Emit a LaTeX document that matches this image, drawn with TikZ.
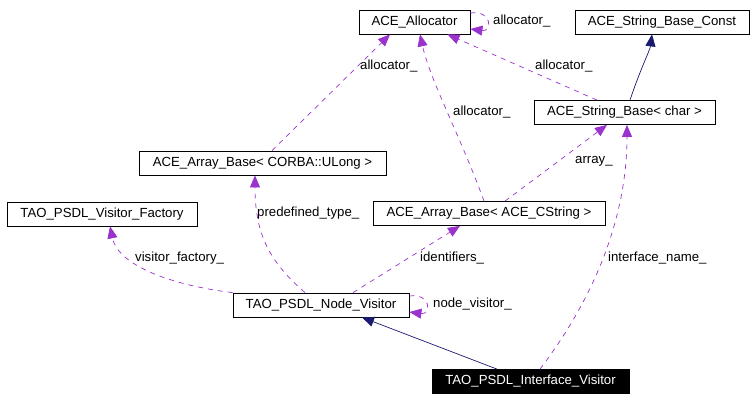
\documentclass[tikz,border=0pt]{standalone}
\usepackage{fontspec}
\setmainfont{Liberation Sans}
\usepackage{xcolor}
\usepackage{tikz}
\usetikzlibrary{arrows.meta}
\definecolor{assoccol}{HTML}{9A32CD}
\definecolor{inhercol}{HTML}{191970}
\tikzset{
	classbox/.style={draw, line width=0.8pt, minimum height=24pt, inner sep=0pt, font=\fontsize{13.2}{15}\selectfont},
	assoc/.style={assoccol, line width=0.7pt, dash pattern=on 5pt off 5pt, -{Triangle[length=12pt,width=10pt]}},
	inher/.style={inhercol, line width=0.7pt, -{Triangle[length=12pt,width=10pt]}},
	lbl/.style={anchor=west, inner sep=0pt, font=\fontsize{13.2}{15}\selectfont}
}
\begin{document}
\begin{tikzpicture}[x=1pt, y=-1pt]
	\useasboundingbox (0,0) rectangle (756,402);
	\node[classbox, minimum width=111pt] (alloc) at (414.5,22) {ACE\_Allocator};
	\node[classbox, minimum width=174pt] (sbconst) at (662,22) {ACE\_String\_Base\_Const};
	\node[classbox, minimum width=181pt] (sbchar) at (624.5,112.5) {ACE\_String\_Base< char >};
	\node[classbox, minimum width=247pt] (abulong) at (262.5,163) {ACE\_Array\_Base< CORBA::ULong >};
	\node[classbox, minimum width=190pt] (vfactory) at (102,214) {TAO\_PSDL\_Visitor\_Factory};
	\node[classbox, minimum width=232pt] (abcstr) at (489,213.5) {ACE\_Array\_Base< ACE\_CString >};
	\node[classbox, minimum width=176pt] (nodevis) at (321,305) {TAO\_PSDL\_Node\_Visitor};
	\node[classbox, minimum width=197pt, fill=black, text=white] (ifacevis) at (530.5,381.5) {TAO\_PSDL\_Interface\_Visitor};

	\draw[assoc] ([yshift=9pt]alloc.east) .. controls +(22,-3) and +(22,3) .. ([yshift=-7pt]alloc.east);
	\draw[assoc] ([xshift=9.5pt]abulong.north) -- ([xshift=-24.5pt]alloc.south);
	\draw[assoc] ([xshift=-27.5pt]sbchar.north) -- ([xshift=33pt]alloc.south);
	\draw[assoc] ([xshift=-5pt]abcstr.north) .. controls (462,140) and (430,80) .. ([xshift=5.5pt]alloc.south);
	\draw[inher] ([xshift=5.5pt]sbchar.north) .. controls (640,70) and (650,50) .. ([xshift=-10pt]sbconst.south);
	\draw[assoc] ([xshift=16pt]abcstr.north) -- ([xshift=-17.5pt]sbchar.south);
	\draw[assoc] ([xshift=9.5pt]ifacevis.north) .. controls (600,290) and (627,210) .. ([xshift=2.5pt]sbchar.south);
	\draw[assoc] ([xshift=-16pt]nodevis.north) .. controls (270,262) and (255,235) .. ([xshift=-7.5pt]abulong.south);
	\draw[assoc] (nodevis.north west) .. controls (170,285) and (118,265) .. ([xshift=8pt]vfactory.south);
	\draw[assoc] ([xshift=32pt]nodevis.north) -- ([xshift=-29pt]abcstr.south);
	\draw[assoc] ([yshift=9pt]nodevis.east) .. controls +(22,-3) and +(22,3) .. ([yshift=-7pt]nodevis.east);
	\draw[inher] ([xshift=-33.5pt]ifacevis.north) -- ([xshift=41pt]nodevis.south);

	\node[lbl] (lallocself) at (493,21) {allocator\_};
	\node[lbl] (lallocul) at (360,66) {allocator\_};
	\node[lbl] (lallocsb) at (535,66) {allocator\_};
	\node[lbl] (lalloccs) at (453,112) {allocator\_};
	\node[lbl] (larray) at (575,161) {array\_};
	\node[lbl] (lpredef) at (257,213) {predefined\_type\_};
	\node[lbl] (lident) at (420,258) {identifiers\_};
	\node[lbl] (liface) at (608,258) {interface\_name\_};
	\node[lbl] (lvfact) at (135,258) {visitor\_factory\_};
	\node[lbl] (lnodevis) at (433,304) {node\_visitor\_};
\end{tikzpicture}
\end{document}
